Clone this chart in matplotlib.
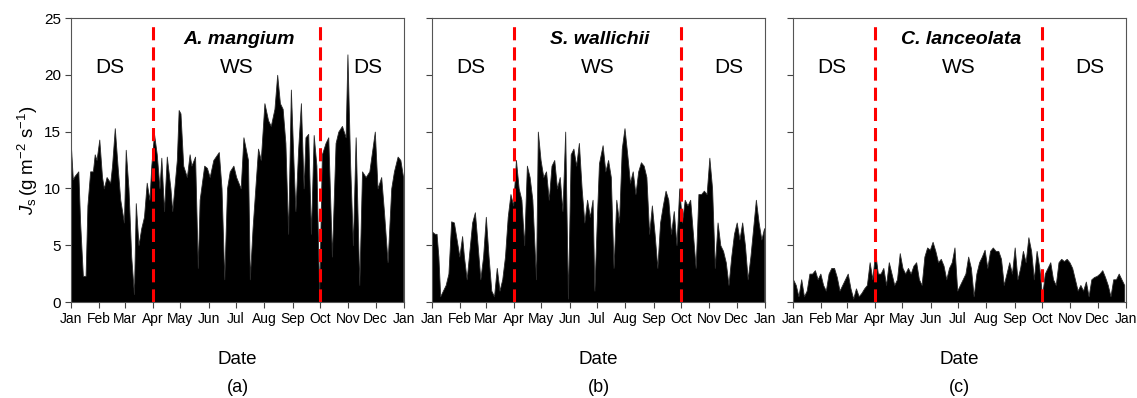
import numpy as np
import matplotlib
matplotlib.use('Agg')
import matplotlib.pyplot as plt

plt.rcParams['font.family'] = ['Liberation Sans', 'DejaVu Sans']
plt.rcParams['mathtext.fontset'] = 'custom'
plt.rcParams['mathtext.rm'] = 'Liberation Sans'
plt.rcParams['mathtext.it'] = 'Liberation Sans:italic'

# daily peak sap flux (day of year, g m-2 s-1)
days_a = [0, 2, 4, 8, 10, 13, 16, 18, 21, 24, 26, 28, 31, 34, 36, 39, 43, 45, 48, 51,
          54, 58, 60, 63, 66, 69, 71, 74, 77, 80, 83, 86, 88, 91, 94, 97, 99, 102, 105, 109,
          111, 116, 118, 120, 123, 127, 130, 132, 136, 139, 141, 146, 149, 152, 156, 162, 165, 168, 171, 174,
          178, 181, 186, 189, 194, 196, 199, 205, 208, 212, 216, 219, 223, 226, 229, 232, 235, 238, 241, 244,
          246, 249, 252, 255, 257, 260, 263, 266, 269, 272, 275, 279, 282, 286, 290, 293, 297, 301, 303, 306,
          309, 312, 316, 319, 323, 327, 333, 336, 340, 343, 347, 351, 354, 358, 361, 364]
vals_a = [13.6, 10.8, 11.1, 11.5, 7, 2.3, 2.3, 8.5, 11.5, 11.5, 13, 12.5, 14.3, 11, 10, 11, 10.5, 12, 15.3, 12,
          9, 7, 13.4, 10, 4, 0.7, 8.7, 5, 6.5, 7.5, 10.5, 9, 12, 14.8, 13, 10, 12.7, 8, 12.8, 10,
          8, 12.5, 16.9, 16.6, 12, 11, 13, 12, 12.8, 3, 9, 12, 11.8, 11, 12.5, 13.2, 10, 2, 10, 11.5,
          12, 11, 10, 14.5, 12.5, 2, 6.5, 13.5, 12.5, 17.5, 16, 15.5, 17, 20, 17.5, 17, 14, 6, 18.7, 12,
          8, 13.5, 17.5, 10, 14.5, 14.8, 6, 14.7, 12, 0.5, 13, 14, 14.5, 4, 14, 15, 15.5, 14.5, 21.8, 12,
          5, 14.5, 1.5, 11.5, 11, 11.5, 15, 10, 11, 8, 3.5, 10, 11.5, 12.8, 12.5, 11]

days_b = [0, 3, 5, 7, 9, 12, 15, 18, 21, 24, 27, 30, 33, 35, 38, 41, 44, 47, 50, 53,
          56, 59, 62, 65, 68, 71, 74, 77, 80, 83, 86, 89, 92, 95, 98, 101, 104, 107, 110, 114,
          116, 119, 122, 125, 128, 131, 134, 137, 140, 143, 146, 149, 152, 155, 158, 161, 164, 167, 170, 173,
          176, 178, 181, 183, 187, 190, 193, 196, 199, 202, 205, 208, 211, 214, 217, 220, 223, 226, 229, 232,
          235, 238, 241, 244, 247, 250, 253, 256, 259, 262, 265, 268, 271, 274, 277, 280, 283, 286, 289, 292,
          295, 298, 301, 304, 307, 310, 313, 316, 319, 322, 325, 328, 331, 334, 337, 340, 343, 346, 349, 352,
          355, 358, 361, 364]
vals_b = [6.2, 6, 6, 4, 0.5, 1, 1.5, 2.5, 7.1, 7, 5.5, 4, 5.8, 4, 2, 4.5, 7, 7.9, 5, 2,
          4, 7.5, 4, 1, 0.5, 3, 1, 2, 4, 7.5, 9.5, 8.5, 12.5, 10, 9, 5, 12, 11, 9, 2,
          15, 12.5, 11, 11.5, 9, 12, 12.5, 10, 11, 8, 15, 0.3, 13, 13.5, 12, 14, 10, 7, 9, 7.5,
          9, 1, 8, 12.2, 13.8, 11.5, 12.5, 11, 3, 9, 7, 13.5, 15.3, 13, 10.5, 11.5, 9.5, 11.5, 12.3, 12,
          11, 6, 8.5, 6, 3, 7, 8.5, 9.8, 9, 6, 8, 5, 10, 7, 9, 8.5, 9, 6, 3, 9.5,
          9.5, 9.8, 9.5, 12.7, 10, 3, 7, 5, 4.5, 3.5, 1.5, 4, 6, 7, 5.5, 7, 5, 2, 4, 6.5,
          9, 7, 5.5, 6.5]

days_c = list(range(0, 365, 3))
vals_c = [2, 1.5, 0.5, 2, 0.5, 1, 2.5, 2.5, 2.8, 2, 2.5, 1.5, 1, 2.5, 3, 3, 2.2, 1, 1.5, 2,
          2.5, 1.2, 0.3, 1.2, 0.5, 0.8, 1.2, 1.5, 3.5, 2, 4.4, 2.5, 2.5, 3, 1.5, 3.5, 2.5, 1.5, 2, 4.3,
          3, 2.5, 3, 2.5, 3.2, 3.5, 2, 1.5, 4, 4.8, 4.6, 5.3, 4.5, 3.5, 3.8, 3.2, 2, 3, 3.5, 4.8,
          1, 1.5, 2, 2.5, 4, 3, 0.5, 2.5, 3.5, 4, 4.6, 3, 4.5, 4.8, 4.5, 4.5, 3.8, 1.5, 2.5, 3.5,
          2.5, 4.8, 2, 3, 4.5, 3.5, 5.7, 4.5, 2, 4.5, 3, 0.5, 2.5, 3, 3.5, 2, 1.5, 3.5, 3.8, 3.6,
          3.8, 3.5, 3, 2, 1, 1.5, 1, 1.8, 0.5, 2, 2.2, 2.3, 2.5, 2.8, 2.2, 1.5, 0.5, 2, 2, 2.5,
          2, 1.5]

species = ['A. mangium', 'S. wallichii', 'C. lanceolata']
panel_tags = ['(a)', '(b)', '(c)']
month_days = [0, 31, 59, 90, 120, 151, 181, 212, 243, 273, 304, 334, 365]
month_labels = ['Jan', 'Feb', 'Mar', 'Apr', 'May', 'Jun', 'Jul', 'Aug', 'Sep', 'Oct', 'Nov', 'Dec', 'Jan']
season_breaks = [90, 273]

fig = plt.figure(figsize=(11.37, 3.98), dpi=100)
lefts = [71 / 1137, 432 / 1137, 793 / 1137]
w = 333 / 1137
bottom = 1 - 302 / 398
h = 284 / 398

data = [(days_a, vals_a), (days_b, vals_b), (days_c, vals_c)]
for i, (d, v) in enumerate(data):
    ax = fig.add_axes([lefts[i], bottom, w, h])
    ax.fill_between(d, 0, v, color='black', lw=0.6, edgecolor='#2a2a2a')
    for b in season_breaks:
        ax.axvline(b, ymax=0.985, color='red', lw=2.2, dashes=(4.3, 2.3), zorder=3)
    ax.set_xlim(0, 365)
    ax.set_ylim(0, 25)
    ax.set_xticks(month_days)
    ax.set_xticklabels(month_labels, fontsize=10)
    ax.set_yticks([0, 5, 10, 15, 20, 25])
    if i == 0:
        ax.set_yticklabels(['0', '5', '10', '15', '20', '25'], fontsize=11)
        ax.set_ylabel(r'$J_{\rm s}\,$(g m$^{-2}$ s$^{-1}$)', fontsize=13.5, labelpad=3)
    else:
        ax.set_yticklabels([])
    ax.tick_params(direction='out', length=4, width=0.8, color='#444444', pad=3)
    for s in ax.spines.values():
        s.set_color('#555555')
        s.set_linewidth(0.8)
    ax.set_xlabel('Date', fontsize=13.5, labelpad=18)
    ax.text(0.5, -0.3, panel_tags[i], transform=ax.transAxes, ha='center', va='center', fontsize=13)
    ax.text(184, 23.1, species[i], ha='center', va='center', fontsize=14,
            fontweight='bold', fontstyle='italic')
    ax.text(42, 20.6, 'DS', ha='center', va='center', fontsize=15)
    ax.text(182, 20.6, 'WS', ha='center', va='center', fontsize=15)
    ax.text(325, 20.6, 'DS', ha='center', va='center', fontsize=15)

fig.savefig('out.png', dpi=100)
